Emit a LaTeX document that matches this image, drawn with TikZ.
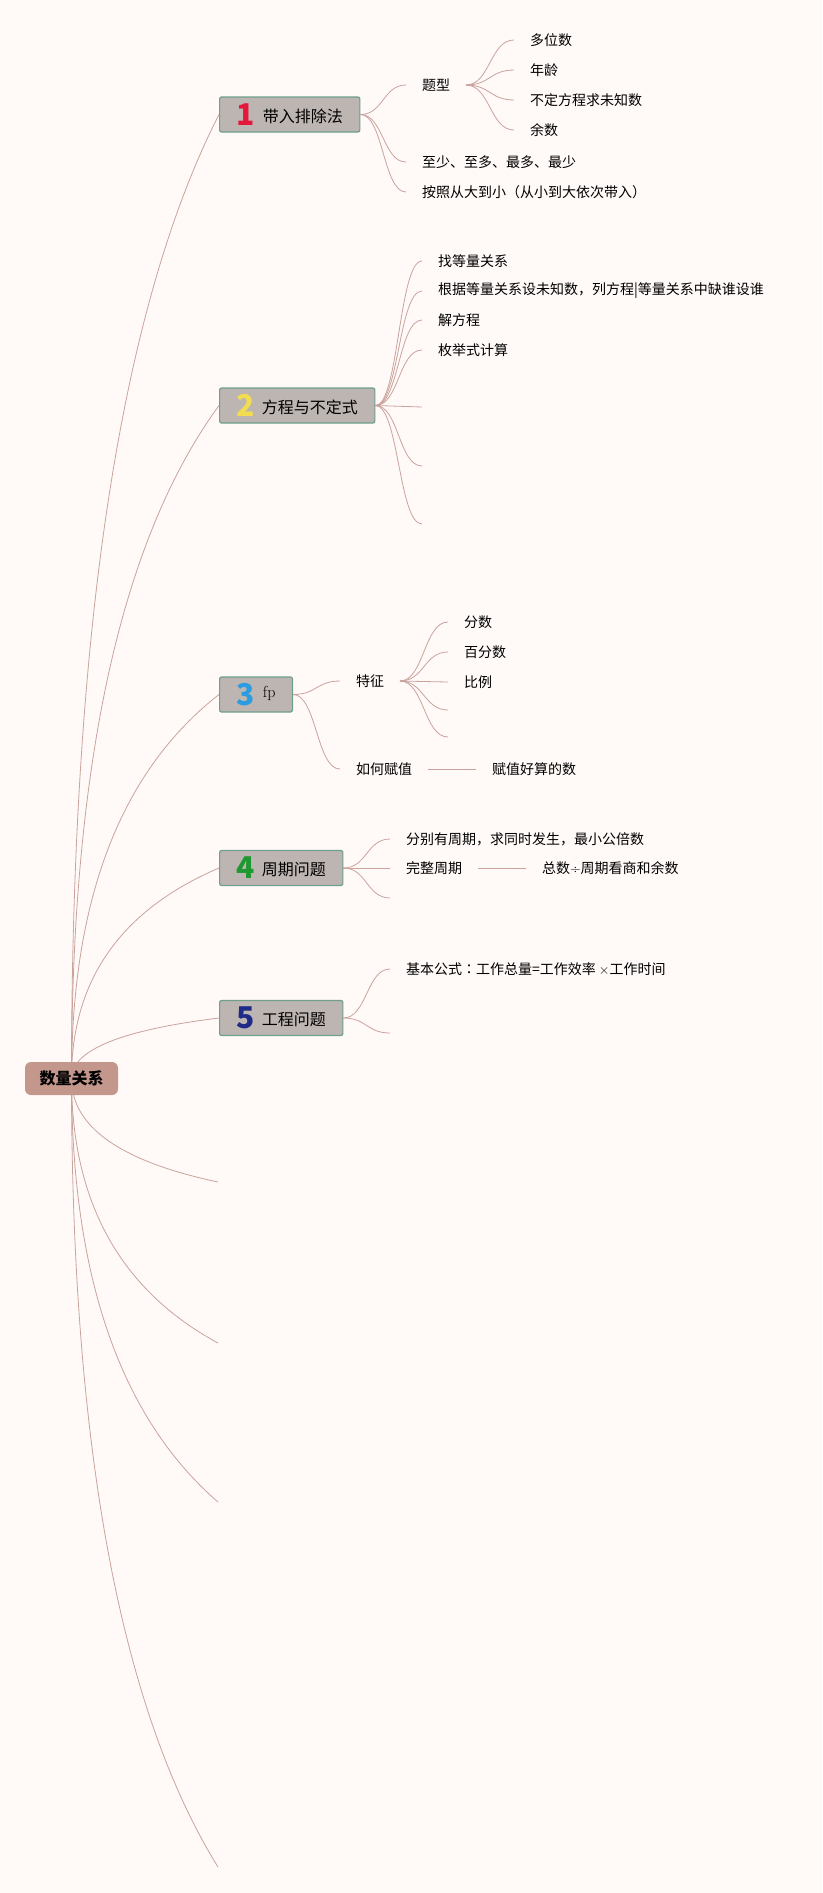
\documentclass[tikz,border=0pt]{standalone}
\usepackage{fontspec}
\newfontfamily\cjk{Noto Sans CJK SC}
\newfontfamily\cjkjp{Noto Sans CJK JP}
\usetikzlibrary{calc,backgrounds}
\begin{document}
\begin{tikzpicture}[x=1pt,y=-1pt,
  rootbox/.style={fill=rootFill,rounded corners=6pt,minimum width=93pt,minimum height=33pt,
    inner sep=0pt,font=\cjk\bfseries\fontsize{16}{16}\selectfont},
  topic/.style={anchor=west,draw=boxDraw,fill=boxFill,line width=1.2pt,rounded corners=2pt,
    minimum height=35pt,inner xsep=17pt,inner ysep=0pt,font=\cjk\fontsize{16}{16}\selectfont},
  leaf/.style={anchor=west,inner sep=0pt,outer xsep=16pt,font=\cjk\fontsize{14}{14}\selectfont},
  limb/.style={draw=lineColor,line width=0.8pt,
    to path={let \p1=(\tikztostart), \p2=(\tikztotarget) in
      .. controls (\x1,{\y1+0.467*(\y2-\y1)}) and ({\x1+(\x2-\x1)/3},{\y1+0.8*(\y2-\y1)}) .. (\tikztotarget)}},
  twig/.style={draw=lineColor,line width=0.8pt,
    to path={.. controls ($(\tikztostart)!0.5!(\tikztostart -| \tikztotarget)$)
      and ($(\tikztotarget)!0.5!(\tikztotarget -| \tikztostart)$) .. (\tikztotarget)}}]
\definecolor[named]{bgColor}{RGB}{255,249,248}
\definecolor[named]{lineColor}{RGB}{201,163,156}
\definecolor[named]{boxFill}{RGB}{189,181,178}
\definecolor[named]{boxDraw}{RGB}{111,159,141}
\definecolor[named]{rootFill}{RGB}{196,151,141}
\definecolor[named]{oneColor}{RGB}{229,23,58}
\definecolor[named]{twoColor}{RGB}{242,221,78}
\definecolor[named]{threeColor}{RGB}{43,156,223}
\definecolor[named]{fourColor}{RGB}{30,153,48}
\definecolor[named]{fiveColor}{RGB}{31,43,135}
\path[use as bounding box] (0,0) rectangle (822,1893);

% root and topics
\node[rootbox] (root) at (71.5,1078.5) {数量关系};
\node[topic] (t1) at (219,114.5) {\raisebox{-3pt}{\color{oneColor}\bfseries\fontsize{30}{30}\selectfont 1}\hspace{8pt}带入排除法};
\node[topic] (t2) at (219,405.5) {\raisebox{-3pt}{\color{twoColor}\bfseries\fontsize{30}{30}\selectfont 2}\hspace{7pt}方程与不定式};
\node[topic] (t3) at (219,694.5) {\raisebox{-3pt}{\color{threeColor}\bfseries\fontsize{30}{30}\selectfont 3}\hspace{8pt}\raisebox{5pt}{\rmfamily\fontsize{16}{16}\selectfont fp}};
\node[topic] (t4) at (219,868) {\raisebox{-3pt}{\color{fourColor}\bfseries\fontsize{30}{30}\selectfont 4}\hspace{7pt}周期问题};
\node[topic] (t5) at (219,1018) {\raisebox{-3pt}{\color{fiveColor}\bfseries\fontsize{30}{30}\selectfont 5}\hspace{7pt}工程问题};
\coordinate (r6) at (218,1182);
\coordinate (r7) at (218,1343);
\coordinate (r8) at (218,1502);
\coordinate (r9) at (218,1867);

% topic 1
\node[leaf] (t1a) at (406,85) {题型};
\node[leaf] (t1b) at (406,162) {至少、至多、最多、最少};
\node[leaf] (t1c) at (406,192) {按照从大到小（从小到大依次带入）};
\node[leaf] (t1a1) at (514,40) {多位数};
\node[leaf] (t1a2) at (514,70) {年龄};
\node[leaf] (t1a3) at (514,100) {不定方程求未知数};
\node[leaf] (t1a4) at (514,130) {余数};

% topic 2
\node[leaf] (t2a) at (422,261) {找等量关系};
\node[leaf] (t2b) at (422,291) {根据等量关系设未知数，列方程|等量关系中缺谁设谁};
\node[leaf] (t2c) at (422,320) {解方程};
\node[leaf] (t2d) at (422,350) {枚举式计算};
\coordinate (t2e) at (422,407);
\coordinate (t2f) at (422,466);
\coordinate (t2g) at (422,524);

% topic 3
\node[leaf] (t3a) at (340,681) {特征};
\node[leaf] (t3b) at (340,769) {如何赋值};
\node[leaf] (t3a1) at (448,622) {分数};
\node[leaf] (t3a2) at (448,652) {百分数};
\node[leaf] (t3a3) at (448,682) {比例};
\coordinate (t3a4) at (448,710);
\coordinate (t3a5) at (448,737);
\node[leaf] (t3b1) at (476,769) {赋值好算的数};

% topic 4
\node[leaf] (t4a) at (390,839) {分别有周期，求同时发生，最小公倍数};
\node[leaf] (t4b) at (390,868) {完整周期};
\coordinate (t4c) at (390,898);
\node[leaf] (t4b1) at (526,868) {总数{\rmfamily ÷}周期看商和余数};

% topic 5
\node[leaf] (t5a) at (390,969) {基本公式{\cjkjp ：}工作总量=工作效率 {\rmfamily ×}工作时间};
\coordinate (t5b) at (390,1033);

\begin{scope}[on background layer]
\fill[bgColor] (0,0) rectangle (822,1893);
\foreach \t in {t1,t2,t3,t4,t5}
  \draw[limb] (root.center) to (\t.west);
\foreach \t in {r6,r7,r8,r9}
  \draw[limb] (root.center) to (\t);
\foreach \t in {t1a,t1b,t1c}
  \draw[twig] (t1.east) to (\t.west);
\foreach \t in {t1a1,t1a2,t1a3,t1a4}
  \draw[twig] (t1a.east) to (\t.west);
\foreach \t in {t2a,t2b,t2c,t2d}
  \draw[twig] (t2.east) to (\t.west);
\foreach \t in {t2e,t2f,t2g}
  \draw[twig] (t2.east) to (\t);
\draw[twig] (t3.east) to (t3a.west);
\draw[twig] (t3.east) to (t3b.west);
\foreach \t in {t3a1,t3a2,t3a3}
  \draw[twig] (t3a.east) to (\t.west);
\draw[twig] (t3a.east) to (t3a4);
\draw[twig] (t3a.east) to (t3a5);
\draw[twig] (t3b.east) to (t3b1.west);
\draw[twig] (t4.east) to (t4a.west);
\draw[twig] (t4.east) to (t4b.west);
\draw[twig] (t4.east) to (t4c);
\draw[twig] (t4b.east) to (t4b1.west);
\draw[twig] (t5.east) to (t5a.west);
\draw[twig] (t5.east) to (t5b);
\end{scope}
\end{tikzpicture}
\end{document}
